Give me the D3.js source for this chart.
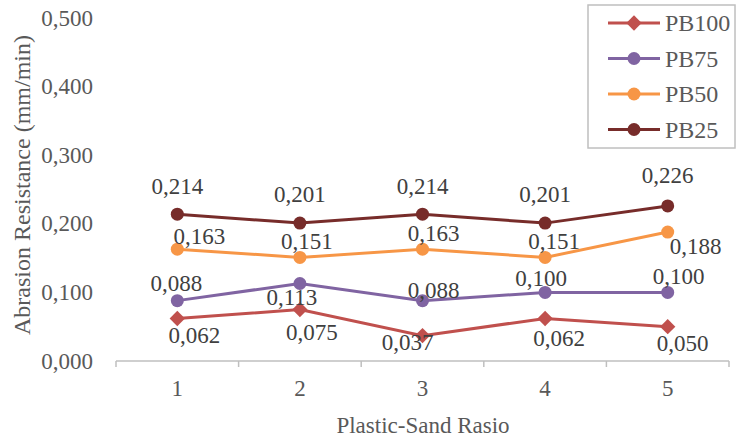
<!DOCTYPE html>
<html>
<head>
<meta charset="utf-8">
<script src="https://d3js.org/d3.v7.min.js"></script>
<style>
  body { margin: 0; background: #fff; }
</style>
</head>
<body>
<svg id="chart" width="738" height="438"></svg>
<script>
// data
const categories = ["1", "2", "3", "4", "5"];
const seriesNames = ["PB100", "PB75", "PB50", "PB25"];
const pb100 = [0.062, 0.075, 0.037, 0.062, 0.050];
const pb75  = [0.088, 0.113, 0.088, 0.100, 0.100];
const pb50  = [0.163, 0.151, 0.163, 0.151, 0.188];
const pb25  = [0.214, 0.201, 0.214, 0.201, 0.226];
const yTicks = [0, 0.1, 0.2, 0.3, 0.4, 0.5];

// label nudges (pixels) per series, per point
const labelNudge = {
  PB100: [[17, 17], [12, 23], [-15, 7], [14, 20], [15, 17]],
  PB75:  [[-1, -17], [-8, 14], [11, -10], [-4, -14], [11, -16]],
  PB50:  [[22, -13], [7, -16], [11, -16], [9, -16], [28, 14]],
  PB25:  [[0, -28], [0, -29], [0, -28], [0, -29], [0, -30]]
};

const colors = {PB100: "#C0504D", PB75: "#8064A2", PB50: "#F79646", PB25: "#772C2A"};
const values = {PB100: pb100, PB75: pb75, PB50: pb50, PB25: pb25};
const serif = '"Liberation Serif"';

const svg = d3.select("#chart");
const locale = d3.formatLocale({decimal: ",", thousands: ".", grouping: [3], currency: ["", ""]});
const fmt = locale.format(".3f");

const x = d3.scaleBand().domain(categories).range([116, 729]).padding(0);
const y = d3.scaleLinear().domain([0, 0.5]).range([361, 18]);
const cx = c => x(c) + x.bandwidth() / 2;

// x axis
const xAxis = svg.append("g")
    .attr("transform", "translate(0,361)");
xAxis.append("line")
    .attr("x1", x.range()[0]).attr("x2", x.range()[1])
    .attr("stroke", "#bfbfbf").attr("stroke-width", 1.5);
const bounds = categories.map(c => x(c)).concat([x.range()[1]]);
xAxis.selectAll("line.tick")
    .data(bounds)
    .enter().append("line")
    .attr("class", "tick")
    .attr("x1", d => d).attr("x2", d => d)
    .attr("y1", 0).attr("y2", 6)
    .attr("stroke", "#bfbfbf").attr("stroke-width", 1.5);
xAxis.selectAll("text")
    .data(categories)
    .enter().append("text")
    .attr("x", d => cx(d))
    .attr("y", 27)
    .attr("text-anchor", "middle")
    .attr("dominant-baseline", "central")
    .attr("fill", "#595959")
    .attr("font-family", serif)
    .style("font-size", "23px")
    .text(d => d);

// y tick labels
svg.append("g").selectAll("text")
    .data(yTicks)
    .enter().append("text")
    .attr("x", 93)
    .attr("y", d => y(d))
    .attr("text-anchor", "end")
    .attr("dominant-baseline", "central")
    .attr("fill", "#595959")
    .attr("font-family", serif)
    .style("font-size", "23px")
    .text(d => fmt(d));

// axis titles
svg.append("text")
    .attr("transform", "translate(22,185) rotate(-90)")
    .attr("text-anchor", "middle")
    .attr("dominant-baseline", "central")
    .attr("fill", "#595959")
    .attr("font-family", serif)
    .style("font-size", "24px")
    .text("Abrasion Resistance (mm/min)");

svg.append("text")
    .attr("x", 423)
    .attr("y", 425)
    .attr("text-anchor", "middle")
    .attr("dominant-baseline", "central")
    .attr("fill", "#595959")
    .attr("font-family", serif)
    .style("font-size", "23px")
    .text("Plastic-Sand Rasio");

const line = d3.line()
    .x((d, i) => cx(categories[i]))
    .y(d => y(d));

const diamond = d3.symbol().type(d3.symbolDiamond2).size(150);

function drawMarker(g, name, px, py) {
  if (name === "PB100") {
    g.append("path")
        .attr("d", diamond)
        .attr("transform", `translate(${px},${py})`)
        .attr("fill", colors[name]);
  } else {
    g.append("circle")
        .attr("cx", px).attr("cy", py).attr("r", 6.5)
        .attr("fill", colors[name]);
  }
}

// series
seriesNames.forEach(name => {
  const g = svg.append("g");
  g.append("path")
      .datum(values[name])
      .attr("d", line)
      .attr("fill", "none")
      .attr("stroke", colors[name])
      .attr("stroke-width", 3);
  values[name].forEach((v, i) => {
    drawMarker(g, name, cx(categories[i]), y(v));
  });
});

// data labels
seriesNames.forEach(name => {
  svg.append("g").selectAll("text")
      .data(values[name])
      .enter().append("text")
      .attr("x", (d, i) => cx(categories[i]) + labelNudge[name][i][0])
      .attr("y", (d, i) => y(d) + labelNudge[name][i][1])
      .attr("text-anchor", "middle")
      .attr("dominant-baseline", "central")
      .attr("fill", "#404040")
      .attr("font-family", serif)
      .style("font-size", "23px")
      .text(d => fmt(d));
});

// legend
const legend = svg.append("g");
legend.append("rect")
    .attr("x", 588).attr("y", 5)
    .attr("width", 147).attr("height", 143)
    .attr("fill", "#fff")
    .attr("stroke", "#bfbfbf").attr("stroke-width", 1.5);
seriesNames.forEach((name, i) => {
  const ly = 23 + i * 35.5;
  legend.append("line")
      .attr("x1", 608).attr("x2", 660)
      .attr("y1", ly).attr("y2", ly)
      .attr("stroke", colors[name]).attr("stroke-width", 3);
  drawMarker(legend, name, 634, ly);
  legend.append("text")
      .attr("x", 665).attr("y", ly)
      .attr("dominant-baseline", "central")
      .attr("fill", "#595959")
      .attr("font-family", serif)
      .style("font-size", "24px")
      .text(name);
});
</script>
</body>
</html>
